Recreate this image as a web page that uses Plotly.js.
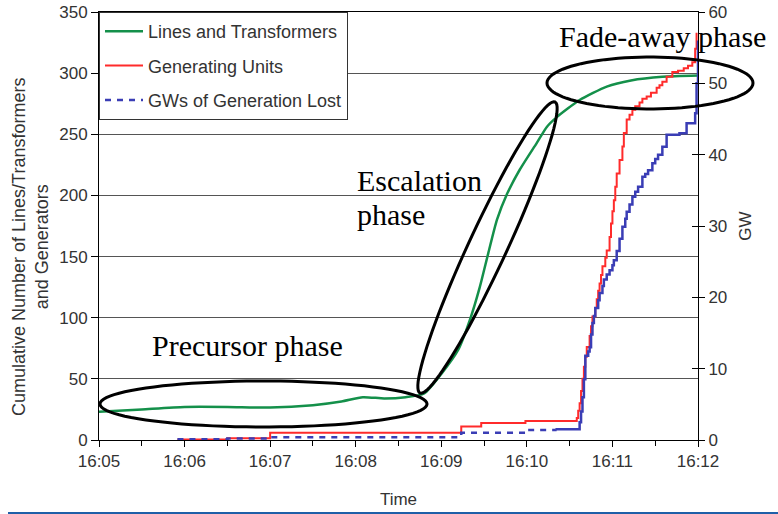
<!DOCTYPE html>
<html>
<head>
<meta charset="utf-8">
<script src="https://cdn.plot.ly/plotly-3.0.1.min.js"></script>
<style>html,body{margin:0;padding:0;background:#fff;}#chart{width:778px;height:514px;}</style>
</head>
<body>
<div id="chart"></div>
<script>
// ---- data ----
const dayPrefix = '2003-08-14 ';
const tickLabels = ['16:05','16:06','16:07','16:08','16:09','16:10','16:11','16:12'];

const seriesNames = ['Lines and Transformers', 'Generating Units', 'GWs of Generation Lost'];

const greenTime = ['16:05:00','16:05:30','16:06:00','16:06:30','16:07:00','16:07:30','16:07:50','16:08:05','16:08:20','16:08:35','16:08:48','16:09:00','16:09:12','16:09:20','16:09:27','16:09:33','16:09:39','16:09:46','16:09:55','16:10:07','16:10:14','16:10:21','16:10:37','16:10:56','16:11:13','16:11:35','16:12:00'];
const greenVal = [23,25,27,27,26.5,28.5,31.5,35,34,35,38,54,74,98,125,153,180,201,221,243,256,264,278,289,294,297,298];

const redTime = ['16:05:55','16:06:30','16:07:00','16:09:14','16:09:28','16:09:59','16:10:35','16:10:36','16:10:37','16:10:38','16:10:39','16:10:40','16:10:41','16:10:42','16:10:44','16:10:45','16:10:46','16:10:48','16:10:49','16:10:50','16:10:51','16:10:52','16:10:53','16:10:55','16:10:56','16:10:58','16:10:59','16:11:00','16:11:01','16:11:02','16:11:03','16:11:05','16:11:07','16:11:08','16:11:10','16:11:12','16:11:14','16:11:16','16:11:19','16:11:21','16:11:24','16:11:27','16:11:31','16:11:33','16:11:35','16:11:38','16:11:42','16:11:46','16:11:50','16:11:53','16:11:56','16:11:58','16:11:59'];
const redVal = [0.5,1.5,6,11,14,15.5,18,24,30,40,50,60,68,76,85,93,101,108,115,122,128,135,142,149,155,166,177,187,196,207,218,229,240,251,262,266,270,273,276,279,281,284,288,290,293,297,301,302,304,306,309,320,333];

const blueTimeEarly = ['16:05:55','16:06:30','16:07:00','16:09:14','16:09:59','16:10:20'];
const blueValEarly = [0.1,0.2,0.4,1.0,1.4,1.5];

const blueTimeLate = ['16:10:20','16:10:36','16:10:37','16:10:38','16:10:39','16:10:40','16:10:41','16:10:43','16:10:44','16:10:45','16:10:46','16:10:47','16:10:48','16:10:50','16:10:51','16:10:53','16:10:54','16:10:56','16:10:58','16:11:00','16:11:01','16:11:03','16:11:05','16:11:07','16:11:09','16:11:10','16:11:12','16:11:14','16:11:16','16:11:18','16:11:21','16:11:23','16:11:25','16:11:28','16:11:30','16:11:32','16:11:35','16:11:38','16:11:47','16:11:52','16:11:58','16:11:59','16:12:00'];
const blueValLate = [1.5,1.5,2.5,4,6,8.5,11.8,12.4,13,14.8,16.4,17.4,18.5,19.6,20.6,21.6,22.5,23.2,23.8,24.5,25.2,26.5,28.2,29.9,31,32,33,34.1,34.8,35.5,36.9,37.3,37.8,38.8,39.4,40,41.1,42.8,43.0,44.4,45.8,50,56];

const phaseLabels = ['Precursor phase', 'Escalation', 'phase', 'Fade-away phase'];
const leftTitle = 'Cumulative Number of Lines/Transformers<br>and Generators';

// ---- helpers ----
const toDate = t => dayPrefix + (t.length === 5 ? t + ':00' : t);
const FONT = 'Liberation Sans, Arial, sans-serif';
const SERIF = 'Liberation Serif, Times New Roman, serif';

// plot-area geometry in pixels (for annotation shapes)
const PL = 99, PR = 698, PT = 12, PB = 440;
const px2x = p => (p - PL) / (PR - PL);
const py2y = p => (PB - p) / (PB - PT);

function ellipsePath(cx, cy, a, b, phi) {
  const n = 90;
  let d = '';
  for (let i = 0; i <= n; i++) {
    const t = 2 * Math.PI * i / n;
    const x = cx + a * Math.cos(t) * Math.cos(phi) - b * Math.sin(t) * Math.sin(phi);
    const y = cy + a * Math.cos(t) * Math.sin(phi) + b * Math.sin(t) * Math.cos(phi);
    d += (i === 0 ? 'M' : 'L') + px2x(x).toFixed(4) + ',' + py2y(y).toFixed(4);
  }
  return d + 'Z';
}

const traces = [
  {
    x: greenTime.map(toDate), y: greenVal, name: seriesNames[0],
    type: 'scatter', mode: 'lines', line: {color: '#14904a', width: 2.5, shape: 'spline', smoothing: 0.6},
    yaxis: 'y', legendgroup: 'g1'
  },
  {
    x: redTime.map(toDate), y: redVal, name: seriesNames[1],
    type: 'scatter', mode: 'lines', line: {color: '#ff2b2b', width: 2, shape: 'hv'},
    yaxis: 'y', legendgroup: 'g2'
  },
  {
    x: blueTimeEarly.map(toDate), y: blueValEarly, name: seriesNames[2],
    type: 'scatter', mode: 'lines', line: {color: '#3a3db5', width: 2.5, shape: 'hv', dash: '6px,6px'},
    yaxis: 'y2', legendgroup: 'g3'
  },
  {
    x: blueTimeLate.map(toDate), y: blueValLate, name: seriesNames[2], showlegend: false,
    type: 'scatter', mode: 'lines', line: {color: '#3a3db5', width: 2.5, shape: 'hv'},
    yaxis: 'y2', legendgroup: 'g3'
  }
];

const shapes = [
  {type: 'path', xref: 'paper', yref: 'paper', path: ellipsePath(263.5, 404, 163.5, 23, 0), line: {color: '#000', width: 3}},
  {type: 'path', xref: 'paper', yref: 'paper', path: ellipsePath(487.5, 247.5, 160.4, 19, Math.atan2(102 - 393, 555 - 420)), line: {color: '#000', width: 3}},
  {type: 'path', xref: 'paper', yref: 'paper', path: ellipsePath(650, 83, 103, 26, 0), line: {color: '#000', width: 3}},
  {type: 'line', xref: 'paper', yref: 'paper', x0: px2x(8), x1: px2x(778), y0: py2y(513), y1: py2y(513), line: {color: '#1f5fa8', width: 2}}
];

const annotations = [
  {text: phaseLabels[0], x: px2x(150), y: py2y(345)},
  {text: phaseLabels[1], x: px2x(355), y: py2y(180)},
  {text: phaseLabels[2], x: px2x(355), y: py2y(214)},
  {text: phaseLabels[3], x: px2x(557), y: py2y(36)}
].map(a => Object.assign({xref: 'paper', yref: 'paper', xanchor: 'left', yanchor: 'middle', showarrow: false,
  font: {family: SERIF, size: 30, color: '#000'}}, a));

annotations.push({
  text: leftTitle, xref: 'paper', yref: 'paper', x: px2x(30), y: py2y(247),
  xanchor: 'center', yanchor: 'middle', textangle: -90, showarrow: false,
  font: {family: FONT, size: 18, color: '#333'}
});

const layout = {
  width: 778, height: 514,
  margin: {l: PL, r: 778 - PR, t: PT, b: 514 - PB, pad: 0},
  paper_bgcolor: '#fff', plot_bgcolor: '#fff',
  font: {family: FONT, size: 17, color: '#333'},
  showlegend: true,
  legend: {
    x: 0, y: 1, xanchor: 'left', yanchor: 'top',
    bgcolor: '#fff', bordercolor: '#333', borderwidth: 1,
    font: {family: FONT, size: 18, color: '#333'},
    traceorder: 'grouped', tracegroupgap: 8, itemwidth: 38
  },
  xaxis: {
    type: 'date',
    range: [toDate(tickLabels[0]), toDate(tickLabels[tickLabels.length - 1])],
    tickmode: 'array', tickvals: tickLabels.map(toDate), ticktext: tickLabels,
    ticks: 'outside', ticklen: 6, tickcolor: '#000', tickwidth: 1,
    minor: {dtick: 30000, ticks: 'outside', ticklen: 5, tickcolor: '#000', showgrid: false},
    showline: true, linecolor: '#000', linewidth: 1, mirror: true,
    showgrid: false, zeroline: false,
    tickfont: {size: 17, color: '#333'},
    title: {text: 'Time', font: {size: 17, color: '#333'}, standoff: 22}
  },
  yaxis: {
    range: [0, 350], dtick: 50,
    ticks: 'outside', ticklen: 7, tickcolor: '#000',
    showline: true, linecolor: '#000', linewidth: 1,
    showgrid: true, gridcolor: '#555', gridwidth: 1, zeroline: false,
    tickfont: {size: 17, color: '#333'}
  },
  yaxis2: {
    overlaying: 'y', side: 'right', range: [0, 60], dtick: 10,
    ticks: 'outside', ticklen: 6, tickcolor: '#000',
    showline: true, linecolor: '#000', linewidth: 1,
    showgrid: false, zeroline: false,
    tickfont: {size: 17, color: '#333'},
    title: {text: 'GW', font: {size: 17, color: '#333'}, standoff: 12}
  },
  yaxis3: {
    overlaying: 'y', side: 'right', range: [0, 60], dtick: 10,
    ticks: 'inside', ticklen: 6, tickcolor: '#000', showticklabels: false,
    showline: false, showgrid: false, zeroline: false
  },
  shapes: shapes,
  annotations: annotations
};

// invisible trace to activate the cross-tick overlay axis
traces.push({x: [toDate(tickLabels[0])], y: [0], yaxis: 'y3', mode: 'markers', marker: {opacity: 0}, showlegend: false, hoverinfo: 'skip'});

Plotly.newPlot('chart', traces, layout, {displayModeBar: false, staticPlot: true});
</script>
</body>
</html>
